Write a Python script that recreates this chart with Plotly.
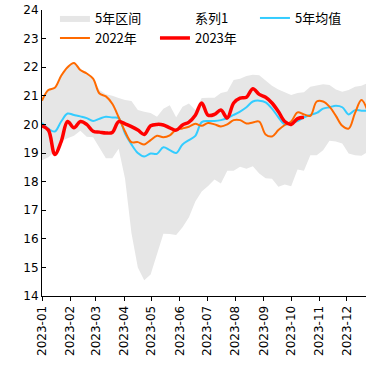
import pandas as pd
import plotly.graph_objects as go

dates = pd.date_range("2023-01-01", periods=52, freq="7D")

band_low = [18.75, 18.85, 19.05, 19.42, 19.52, 19.6, 19.78, 19.57, 19.55, 19.2,
            18.82, 18.82, 19.15, 18.1, 16.2, 15.0, 14.55, 14.75, 15.5, 16.18,
            16.17, 16.13, 16.4, 16.75, 17.3, 17.65, 17.85, 18.07, 17.93, 18.38,
            18.38, 18.52, 18.45, 18.54, 18.28, 18.12, 18.1, 17.82, 17.9, 17.84,
            18.42, 18.38, 18.92, 18.92, 19.1, 19.43, 19.4, 19.33, 18.98, 18.92,
            18.9, 19.04]

band_high = [20.83, 21.2, 21.28, 21.7, 22.0, 22.15, 21.9, 21.78, 21.6, 21.2,
             21.05, 21.0, 20.92, 20.85, 20.82, 20.5, 20.44, 20.4, 20.27, 20.55,
             20.67, 20.25, 20.62, 20.73, 20.5, 20.92, 20.93, 20.93, 21.1, 21.15,
             21.55, 21.6, 21.69, 21.74, 21.72, 21.55, 21.35, 21.22, 21.12, 21.03,
             21.1, 21.12, 21.32, 21.37, 21.4, 21.38, 21.22, 21.14, 21.2, 21.32,
             21.35, 21.45]

avg5 = [20.05, 19.85, 19.75, 20.1, 20.38, 20.33, 20.28, 20.22, 20.12, 20.2,
        20.27, 20.24, 20.22, 19.68, 19.3, 19.0, 18.88, 18.98, 18.97, 19.2,
        19.1, 19.0, 19.3, 19.45, 19.6, 20.08, 20.12, 20.12, 20.15, 20.22,
        20.33, 20.45, 20.6, 20.8, 20.83, 20.77, 20.55, 20.25, 20.0, 20.05,
        20.12, 20.25, 20.33, 20.4, 20.55, 20.6, 20.65, 20.6, 20.35, 20.5,
        20.48, 20.48]

y2022 = [20.83, 21.2, 21.28, 21.7, 22.0, 22.15, 21.9, 21.78, 21.6, 21.08,
         20.98, 20.72, 20.25, 19.75, 19.38, 19.38, 19.3, 19.45, 19.6, 19.55,
         19.62, 19.82, 19.86, 19.92, 20.02, 19.95, 20.05, 20.0, 19.93, 20.0,
         20.15, 20.15, 20.03, 20.07, 20.1, 19.65, 19.58, 19.8, 19.98, 20.1,
         20.42, 20.35, 20.3, 20.8, 20.8, 20.62, 20.3, 19.95, 19.85, 20.4,
         20.85, 20.45]

y2023 = [19.95, 19.8, 18.95, 19.4, 20.1, 19.88, 20.1, 20.0, 19.76, 19.73,
         19.7, 19.72, 20.1, 20.02, 19.92, 19.8, 19.65, 19.95, 20.0, 19.98,
         19.88, 19.8, 19.98, 20.08, 20.32, 20.75, 20.32, 20.35, 20.5, 20.22,
         20.75, 20.92, 20.95, 21.25, 21.05, 20.95, 20.75, 20.45, 20.1, 20.0,
         20.2, 20.25]

names = ["5年区间", "系列1", "5年均值", "2022年", "2023年"]

fig = go.Figure()
fig.add_trace(go.Scatter(x=dates, y=band_low, name=names[1], mode="lines",
                         line=dict(width=0, color="rgba(0,0,0,0)"),
                         legend="legend", legendrank=2, hoverinfo="skip"))
fig.add_trace(go.Scatter(x=dates, y=band_high, name=names[0], mode="lines",
                         fill="tonexty", fillcolor="#e6e6e6",
                         line=dict(width=0, color="#e6e6e6"),
                         legend="legend", legendrank=1))
fig.add_trace(go.Scatter(x=dates, y=avg5, name=names[2], mode="lines",
                         line=dict(color="#33ccff", width=2, shape="spline"),
                         legend="legend", legendrank=3))
fig.add_trace(go.Scatter(x=dates, y=y2022, name=names[3], mode="lines",
                         line=dict(color="#ff6a00", width=2, shape="spline"),
                         legend="legend2", legendrank=4))
fig.add_trace(go.Scatter(x=dates[:len(y2023)], y=y2023, name=names[4], mode="lines",
                         line=dict(color="#ff0000", width=3.5, shape="spline"),
                         legend="legend2", legendrank=5))

legend_common = dict(orientation="h", x=0.04, xanchor="left", yanchor="middle",
                     entrywidth=55, entrywidthmode="pixels",
                     font=dict(family="Noto Sans CJK SC", size=13, color="black"),
                     bgcolor="rgba(0,0,0,0)", traceorder="normal")

fig.update_layout(
    width=382, height=367,
    margin=dict(l=42, r=16, t=10, b=71, autoexpand=False),
    paper_bgcolor="white", plot_bgcolor="white",
    font=dict(family="DejaVu Sans, Noto Sans CJK SC", size=12, color="black"),
    legend=dict(y=0.972, **legend_common),
    legend2=dict(y=0.902, **legend_common),
    showlegend=True,
)
fig.update_xaxes(type="date", range=["2023-01-01", "2023-12-22"],
                 tickformat="%Y-%m", dtick="M1", tick0="2023-01-01",
                 tickangle=-90, ticks="outside", ticklen=4, tickcolor="black",
                 showline=True, linecolor="black", linewidth=1,
                 showgrid=False, zeroline=False, automargin=False,
                 tickfont=dict(family="DejaVu Sans", size=12))
fig.update_yaxes(range=[14, 24], dtick=1, ticks="inside", ticklen=4,
                 tickcolor="black", showline=True, linecolor="black", linewidth=1,
                 showgrid=False, zeroline=False, automargin=False,
                 tickfont=dict(family="DejaVu Sans", size=12))

fig.write_html("out.html", config={"displayModeBar": False},
               post_script="document.body.style.margin='0';document.body.style.overflow='hidden';")
